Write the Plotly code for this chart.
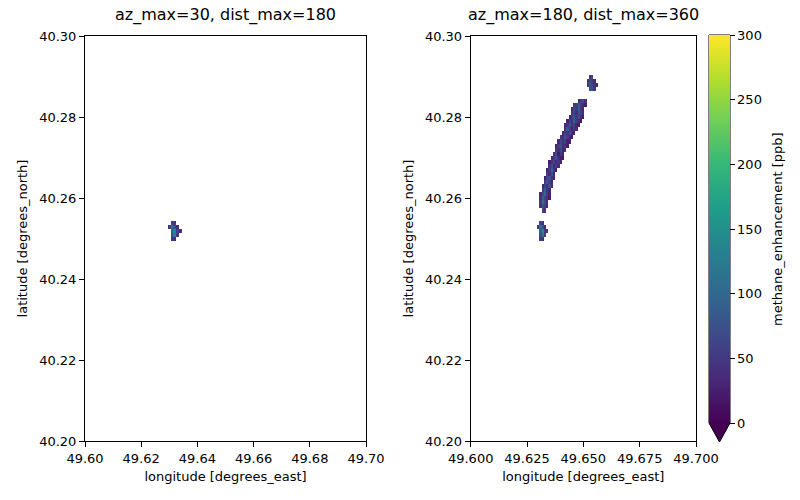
import numpy as np
import plotly.graph_objects as go

# ---------------- data ----------------
TITLES = ["az_max=30, dist_max=180", "az_max=180, dist_max=360"]
X_LABEL = "longitude [degrees_east]"
Y_LABEL = "latitude [degrees_north]"
CBAR_LABEL = "methane_enhancement [ppb]"
CBAR_TICKS = [0, 50, 100, 150, 200, 250, 300]
X_TICKS_LEFT = [49.60, 49.62, 49.64, 49.66, 49.68, 49.70]
X_TICKS_RIGHT = [49.600, 49.625, 49.650, 49.675, 49.700]
Y_TICKS = [40.20, 40.22, 40.24, 40.26, 40.28, 40.30]

GRID_STEP = 0.001  # degrees, pixel size of gridded field

# small plume near source (seen in both panels): row latitude, first lon, values (ppb)
BLOB_LAT = [40.254, 40.253, 40.252, 40.251, 40.250]
BLOB_LON0 = [49.631, 49.630, 49.631, 49.631, 49.631]
BLOB_VALUES = [
    [60, 45],
    [45, 110, 70, 35],
    [90, 140, 55, 40],
    [75, 125, 50],
    [55, 40],
]

# elongated plume (right panel only)
BAND_LAT = [40.290, 40.289, 40.288, 40.287,
            40.284, 40.283, 40.282, 40.281, 40.280, 40.279, 40.278,
            40.277, 40.276, 40.275, 40.274, 40.273, 40.272, 40.271, 40.270,
            40.269, 40.268, 40.267, 40.266, 40.265, 40.264, 40.263, 40.262,
            40.261, 40.260, 40.259, 40.258, 40.257]
BAND_LON0 = [49.653, 49.652, 49.652, 49.653,
             49.648, 49.646, 49.645, 49.645, 49.644, 49.643, 49.642,
             49.642, 49.641, 49.640, 49.639, 49.638, 49.638, 49.637, 49.636,
             49.635, 49.635, 49.634, 49.634, 49.633, 49.633, 49.632, 49.632,
             49.631, 49.631, 49.631, 49.631, 49.632]
BAND_VALUES = [
    [45, 60],
    [40, 70, 55, 35],
    [50, 85, 60, 40, 30],
    [65, 75, 45],
    [35, 55, 70, 40],
    [40, 60, 85, 55, 35, 25],
    [30, 70, 50, 90, 45, 30],
    [45, 65, 35, 75, 60, 35],
    [25, 55, 80, 45, 70, 40, 25],
    [30, 60, 40, 95, 55, 35, 20],
    [35, 50, 75, 45, 60, 30, 25],
    [40, 85, 55, 30, 50, 35],
    [30, 60, 45, 70, 40, 25],
    [45, 35, 80, 55, 30, 20],
    [35, 65, 40, 60, 25, 30],
    [30, 55, 75, 35, 45, 25],
    [50, 40, 65, 30, 35],
    [40, 70, 25, 55, 30],
    [35, 55, 85, 40, 25, 20],
    [25, 45, 60, 35, 50, 30],
    [40, 75, 30, 55, 35],
    [30, 50, 90, 45, 25],
    [55, 40, 70, 35],
    [25, 65, 80, 45, 30],
    [45, 95, 55, 30],
    [30, 60, 40, 75, 35],
    [50, 85, 45, 30],
    [35, 70, 100, 55, 30],
    [40, 90, 65, 45, 25],
    [55, 105, 70, 35],
    [45, 80, 60, 30],
    [60, 40],
]

# ---------------- grid ----------------
LON_MIN, LON_MAX = 49.625, 49.660
LAT_MIN, LAT_MAX = 40.245, 40.295
lon = np.round(np.arange(LON_MIN, LON_MAX + GRID_STEP / 2, GRID_STEP), 4)
lat = np.round(np.arange(LAT_MIN, LAT_MAX + GRID_STEP / 2, GRID_STEP), 4)


def fill(z, lats, lon0s, vals):
    for la, lo0, row in zip(lats, lon0s, vals):
        j = int(round((la - LAT_MIN) / GRID_STEP))
        i0 = int(round((lo0 - LON_MIN) / GRID_STEP))
        for k, v in enumerate(row):
            z[j, i0 + k] = v
    return z


z_left = fill(np.full((lat.size, lon.size), np.nan), BLOB_LAT, BLOB_LON0, BLOB_VALUES)
z_right = fill(np.full((lat.size, lon.size), np.nan), BLOB_LAT, BLOB_LON0, BLOB_VALUES)
z_right = fill(z_right, BAND_LAT, BAND_LON0, BAND_VALUES)

# ---------------- figure ----------------
W, H = 800, 500
FONT = "DejaVu Sans"


def px(x):
    return x / W


def py(y):
    return 1 - y / H


fig = go.Figure()
fig.add_trace(go.Heatmap(x=lon, y=lat, z=z_left, coloraxis="coloraxis",
                         xaxis="x", yaxis="y", hoverongaps=False))
fig.add_trace(go.Heatmap(x=lon, y=lat, z=z_right, coloraxis="coloraxis",
                         xaxis="x2", yaxis="y2", hoverongaps=False))

axis_common = dict(showline=True, mirror=True, linecolor="black", linewidth=1,
                   ticks="outside", ticklen=5, tickcolor="black", showgrid=False,
                   zeroline=False, tickfont=dict(family=FONT, size=13, color="black"),
                   automargin=False)
title_font = dict(family=FONT, size=13, color="black")

Y_TOP, Y_BOT = 36, 441
fig.update_layout(
    width=W, height=H,
    margin=dict(l=0, r=0, t=0, b=0),
    paper_bgcolor="white", plot_bgcolor="white",
    font=dict(family=FONT, color="black"),
    xaxis=dict(domain=[px(85), px(366)], range=[49.60, 49.70], tickvals=X_TICKS_LEFT,
               tickformat=".2f", title=dict(text=X_LABEL, font=title_font, standoff=7),
               anchor="y", **axis_common),
    yaxis=dict(domain=[py(Y_BOT), py(Y_TOP)], range=[40.20, 40.30], tickvals=Y_TICKS,
               tickformat=".2f", title=dict(text=Y_LABEL, font=title_font, standoff=8),
               anchor="x", **axis_common),
    xaxis2=dict(domain=[px(470.7), px(696)], range=[49.60, 49.70], tickvals=X_TICKS_RIGHT,
                tickformat=".3f", title=dict(text=X_LABEL, font=title_font, standoff=7),
                anchor="y2", **axis_common),
    yaxis2=dict(domain=[py(Y_BOT), py(Y_TOP)], range=[40.20, 40.30], tickvals=Y_TICKS,
                tickformat=".2f", title=dict(text=Y_LABEL, font=title_font, standoff=8),
                anchor="x2", **axis_common),
    coloraxis=dict(
        colorscale="Viridis", cmin=0, cmax=300,
        colorbar=dict(
            x=px(709), xanchor="left", xpad=0,
            y=py(423), yanchor="bottom", ypad=0,
            lenmode="pixels", len=423 - 35, thickness=21, thicknessmode="pixels",
            outlinewidth=0, tickvals=CBAR_TICKS, ticks="outside", ticklen=5,
            tickcolor="black", tickfont=dict(family=FONT, size=13, color="black"),
        ),
    ),
    showlegend=False,
)

# colorbar label
fig.add_annotation(text=CBAR_LABEL, x=px(778), y=py(229), xref="paper", yref="paper",
                   xanchor="center", yanchor="middle", textangle=-90, showarrow=False,
                   font=title_font)

# subplot titles
for title, (a, b) in zip(TITLES, [(85, 366), (470.7, 696)]):
    fig.add_annotation(text=title, x=px((a + b) / 2), y=py(27), xref="paper", yref="paper",
                       xanchor="center", yanchor="bottom", showarrow=False,
                       font=dict(family=FONT, size=16, color="black"))

# colorbar extend-min triangle + outline
cx0, cx1, ctop, cbot, ctip = px(709), px(730), py(35), py(423), py(442)
cmid = (cx0 + cx1) / 2
fig.add_shape(type="path", xref="paper", yref="paper",
              path=f"M {cx0} {cbot} L {cx1} {cbot} L {cmid} {ctip} Z",
              fillcolor="#440154", line=dict(width=0))
fig.add_shape(type="path", xref="paper", yref="paper",
              path=f"M {cx0} {ctop} L {cx1} {ctop} L {cx1} {cbot} L {cmid} {ctip} L {cx0} {cbot} Z",
              fillcolor="rgba(0,0,0,0)", line=dict(color="black", width=1))

fig.write_html("out.html")
